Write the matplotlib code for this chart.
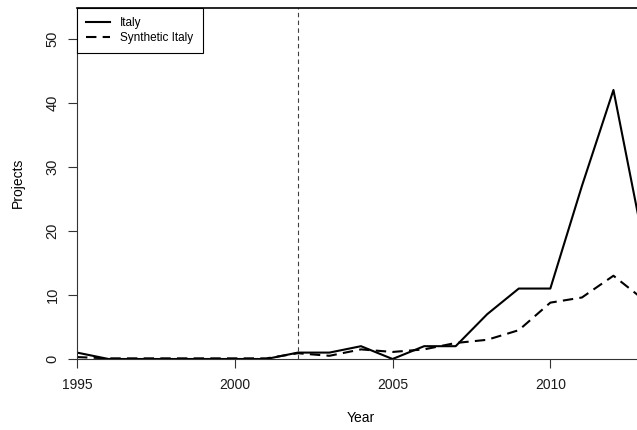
import numpy as np
import matplotlib.pyplot as plt

plt.rcParams['font.family'] = ['Liberation Sans', 'DejaVu Sans']

years = list(range(1995, 2014))
italy = [1, 0, 0, 0, 0, 0, 0, 1, 1, 2, 0, 2, 2, 7, 11, 11, 27, 42, 17]
synthetic_italy = [0.3, 0.1, 0.1, 0.1, 0.1, 0.1, 0.1, 0.9, 0.5, 1.5, 1.1, 1.5, 2.5, 3.0, 4.5, 8.8, 9.6, 13.0, 9.1]
treatment_year = 2002

W, H = 637, 430
fig = plt.figure(figsize=(W / 100, H / 100), dpi=100)
# plot region runs a little past the right edge of the canvas
ax = fig.add_axes([77 / W, 71 / H, 568 / W, 351 / H])

ax.plot(years, italy, color='black', lw=1.5, label='Italy')
ax.plot(years, synthetic_italy, color='black', lw=1.5, dashes=(5, 3), label='Synthetic Italy')
ax.axvline(treatment_year, color='0.25', lw=0.8, dashes=(4, 3))

ax.set_xlim(1995, 2013)
ax.set_ylim(0, 54.8)
ax.set_xticks([1995, 2000, 2005, 2010])
ax.set_yticks([0, 10, 20, 30, 40, 50])
ax.tick_params(direction='out', length=6.5, width=0.8, colors='0.2', labelcolor='0.1')
ax.tick_params(axis='x', pad=7, labelsize=10)
ax.tick_params(axis='y', pad=6, labelsize=10.5)
for lab in ax.get_yticklabels():
    lab.set_rotation(90)
    lab.set_va('center')

for s in ['left', 'bottom']:
    ax.spines[s].set_color('0.2')
    ax.spines[s].set_linewidth(0.8)
ax.spines['top'].set_linewidth(1.2)
ax.spines['right'].set_visible(False)

fig.text(361 / W, 1 - 418 / H, 'Year', ha='center', va='center', fontsize=10)
fig.text(18 / W, 1 - 183 / H, 'Projects', ha='center', va='center', rotation=90, fontsize=10)

leg = ax.legend(loc='upper left', bbox_to_anchor=(0, 1), borderaxespad=0, fancybox=False,
                edgecolor='black', framealpha=1, fontsize=8.5, handlelength=2.0,
                handletextpad=0.85, borderpad=0.8, labelspacing=0.2)
leg.get_frame().set_linewidth(0.8)

fig.savefig('out.png', dpi=100)
